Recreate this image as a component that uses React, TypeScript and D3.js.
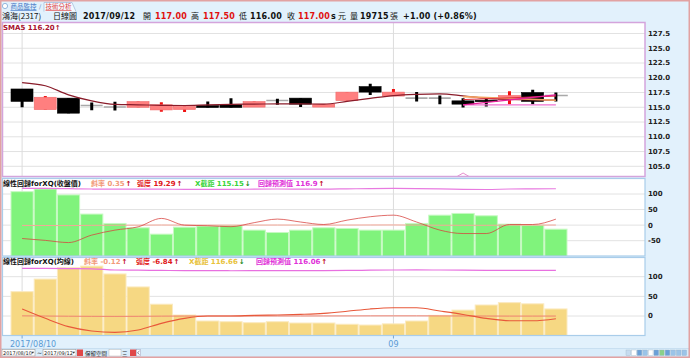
import React from "react";
import * as d3 from "d3";

const dates = ["2017/08/10","08/11","08/14","08/15","08/16","08/17","08/18","08/21","08/22","08/23","08/24","08/25","08/28","08/29","08/30","08/31","09/01","09/04","09/05","09/06","09/07","09/08","09/11","09/12"];
const opens = [118.1,114.6,116.55,115.3,115.05,115.0,114.55,114.62,115.3,115.42,115.03,116.14,116.55,115.03,116.14,118.5,116.9,116.55,116.55,116.09,116.2,116.26,117.5,117.0];
const highs = [118.1,116.9,116.55,115.8,115.95,116.0,115.85,115.13,115.97,116.55,115.97,116.43,116.55,115.53,117.57,118.97,118.08,117.57,116.99,116.55,116.55,117.7,117.96,117.5];
const lows = [115.0,114.6,114.0,114.5,114.45,115.0,114.25,114.2,114.96,114.96,115.03,115.42,115.03,115.03,116.14,117.1,116.9,115.97,115.53,114.96,115.13,115.53,115.53,116.0];
const closes = [116.0,116.7,114.0,115.3,115.05,115.97,115.42,115.13,114.96,114.96,115.97,116.14,115.53,115.53,117.57,117.57,117.57,116.55,116.55,115.53,116.0,117.0,116.0,117.0];
const sma5 = [119.19,118.64,117.11,116.09,115.5,115.42,115.33,115.3,115.42,115.5,115.53,115.58,115.58,115.53,116.0,116.5,116.99,117.2,117.28,116.94,116.5,116.35,116.26,116.2];

const regIdx = [19, 23];
const regOrange = [116.8, 116.2];
const regMagenta = [115.4, 117.1];
const regPink = [115.4, 115.4];
const regRed = [116.3, 116.9];

const midBars = [107.5,116,97,35.5,5.4,-8.6,-29,-6.5,-3.2,-2,-16,-23.7,-16,-8.6,-10.7,-16,-16,5.4,32,37.6,30,3.2,0,-13];
const midAngle = [-43,-49,-56,-32,-16,-5.4,21.6,0,-2,-5,8,19.4,10,2,16,27,32,10,-16,-27,-27,2,2,19.29];
const midSlope = [-0.93,-1.15,-1.48,-0.62,-0.29,-0.09,0.4,0,-0.03,-0.09,0.14,0.35,0.18,0.03,0.29,0.51,0.62,0.18,-0.29,-0.51,-0.51,0.03,0.03,0.35];
const midPred = [118,118,117,116,115.5,115.5,115.5,115,115,115,115.5,116,115.8,115.6,116.5,117.5,118,117.5,116.5,115,114.5,116,116.5,116.9];

const botBars = [61.9,94,123,127,107,74,30,2.5,-12.7,-14.5,-17,-14.5,-17.8,-17.8,-21,-23,-20,-12.7,1.7,15,28,34,31,18];
const botAngle = [17.8,-6,-27,-38,-41.6,-35.6,-18.7,-6,0,0,1.7,2.5,4.2,6.8,12,18,21,21,12.7,4,-6,-12,-12,-6.84];
const botSlope = [0.32,-0.1,-0.51,-0.78,-0.89,-0.72,-0.34,-0.1,0,0,0.03,0.04,0.07,0.12,0.21,0.32,0.38,0.38,0.23,0.07,-0.1,-0.21,-0.21,-0.12];
const botPred = [121,121,120.5,120,117,116.5,116,115.5,115.3,115.2,115.3,115.5,115.6,115.7,116,116.5,117,117.3,117,116.6,116.3,116.2,116.1,116.06];

const topTicks = [105,107.5,110,112.5,115,117.5,120,122.5,125,127.5];
const midTicks = [100,50,0,-50];
const botTicks = [100,50,0];
const xLabels = [{ i: 0, t: "2017/08/10" }, { i: 16, t: "09" }];

const W = 690, H = 358;
const PL = 3, PR = 645;
const TOP = [22.5, 176.5];
const MID = [178.5, 256];
const BOT = [257.5, 335.5];

const NUM = "'DejaVu Sans', 'Noto Sans CJK TC', sans-serif";
const CJK = "'Noto Sans CJK TC', 'Noto Sans CJK SC', sans-serif";

let measureCtx: CanvasRenderingContext2D | null = null;
function measure(t: string, font: string): number {
  if (!measureCtx) measureCtx = document.createElement("canvas").getContext("2d");
  if (!measureCtx) return t.length * 5;
  measureCtx.font = font;
  return measureCtx.measureText(t).width;
}

type Item = { t: string; x: number; c: string; arrow?: string; ac?: string };

function Legend({ items, y, fs }: { items: Item[]; y: number; fs: number }) {
  const font = `bold ${fs}px ${NUM}`;
  return (
    <g>
      {items.map((it, k) => {
        const w = measure(it.t, font);
        return (
          <g key={k}>
            <text x={it.x} y={y} fill={it.c} fontSize={fs} fontWeight="bold" fontFamily={NUM}>{it.t}</text>
            {it.arrow ? (
              <text x={it.x + w + 0.8} y={y} fill={it.ac} fontSize={fs} fontWeight="bold" fontFamily={NUM}>{it.arrow}</text>
            ) : null}
          </g>
        );
      })}
    </g>
  );
}

export default function App() {
  const x = d3.scaleBand<number>().domain(d3.range(dates.length)).range([10.5, 567.5]).padding(0);
  const bw = x.bandwidth();
  const cx = (i: number) => (x(i) as number) + bw / 2;
  const yT = d3.scaleLinear().domain([105, 127.5]).range([166.3, 33.5]);
  const yM = d3.scaleLinear().domain([-50, 100]).range([240.7, 194]);
  const yB = d3.scaleLinear().domain([0, 100]).range([316, 276.7]);

  const lineT = d3.line<number>().x((_, i) => cx(i)).y((v) => yT(v)).curve(d3.curveMonotoneX);
  const lineM = d3.line<number>().x((_, i) => cx(i)).y((v) => yM(v)).curve(d3.curveMonotoneX);
  const lineB = d3.line<number>().x((_, i) => cx(i)).y((v) => yB(v)).curve(d3.curveMonotoneX);
  const regLine = (vals: number[]) =>
    d3.line<number>().x((_, k) => cx(regIdx[k])).y((v) => yT(v))(vals) as string;

  const candles = dates.map((d, i) => {
    const o = opens[i], c = closes[i], h = highs[i], l = lows[i];
    const bx = (x(i) as number) + 0.5;
    const w = bw - 1.2;
    const m = cx(i);
    if (Math.abs(c - o) < 0.02) {
      return (
        <g key={i}>
          <line x1={bx} x2={bx + w + (i === dates.length - 1 ? 1 : 0)} y1={yT(o)} y2={yT(o)} stroke="#a9a9a9" strokeWidth={1.6} />
          <line x1={m} x2={m} y1={yT(h)} y2={yT(l)} stroke="#000" strokeWidth={3} />
        </g>
      );
    }
    const up = c > o;
    const top = yT(Math.max(o, c)), bot = yT(Math.min(o, c));
    return (
      <g key={i}>
        <line x1={m} x2={m} y1={yT(h)} y2={yT(l)} stroke={up ? "#f01010" : "#000"} strokeWidth={3} />
        <rect x={bx} y={top} width={w} height={Math.max(1.5, bot - top)} fill={up ? "#ff7f7f" : "#000"} stroke={up ? "#f06a6a" : "#000"} strokeWidth={0.6} />
      </g>
    );
  });

  const upA = "#c00010", dnA = "#1a8a1a";
  const hdrY = 18.5;
  const hb = (t: string, x0: number, c: string) => (
    <text x={x0} y={hdrY} fontSize={8} fontWeight="bold" fill={c} fontFamily={NUM} letterSpacing={0.2}>{t}</text>
  );
  const hc = (t: string, x0: number) => (
    <text x={x0} y={hdrY} fontSize={8} fill="#111" fontFamily={CJK}>{t}</text>
  );

  return (
    <svg width={W} height={H} style={{ position: "absolute", left: 0, top: 0, display: "block" }} xmlns="http://www.w3.org/2000/svg">
      <defs>
        <clipPath id="cT"><rect x={PL} y={TOP[0]} width={PR - PL} height={TOP[1] - TOP[0]} /></clipPath>
        <clipPath id="cM"><rect x={PL} y={MID[0]} width={PR - PL} height={MID[1] - MID[0]} /></clipPath>
        <clipPath id="cB"><rect x={PL} y={BOT[0]} width={PR - PL} height={BOT[1] - BOT[0]} /></clipPath>
      </defs>
      <rect x={0} y={0} width={W} height={H} fill="#e2f1fc" />
      {/* tabs */}
      <circle cx={5} cy={6} r={2.6} fill="#fff" stroke="#7aa6d6" strokeWidth={0.8} />
      <text x={10.5} y={9} fontSize={6.5} fill="#3d74c4" fontFamily={CJK} textDecoration="underline">商品監控</text>
      <text x={39} y={9} fontSize={6.5} fill="#7a9cc8" fontFamily={NUM}>/</text>
      <path d="M44,11.5 L44,2.5 L72,2.5 L76,11.5" fill="#f4f9fe" stroke="#9bb8d8" strokeWidth={0.7} />
      <text x={45.5} y={9} fontSize={6.5} fill="#d44" fontFamily={CJK} textDecoration="underline">技術分析</text>
      {/* header row */}
      {hc("鴻海(2317)", 2)}
      {hc("日線圖", 53)}
      {hb("2017/09/12", 83, "#111")}
      {hc("開", 143)}
      {hb("117.00", 155, "#e01010")}
      {hc("高", 191)}
      {hb("117.50", 203, "#e01010")}
      {hc("低", 239)}
      {hb("116.00", 250, "#111")}
      {hc("收", 287)}
      {hb("117.00", 298, "#e01010")}
      {hb("s", 331, "#111")}
      {hc("元", 338)}
      {hc("量", 350)}
      {hb("19715", 360, "#111")}
      {hc("張", 390)}
      {hb("+1.00 (+0.86%)", 403, "#111")}

      {/* panels background */}
      <rect x={PL} y={TOP[0]} width={PR - PL} height={TOP[1] - TOP[0]} fill="#fff" />
      <rect x={PL} y={MID[0]} width={PR - PL} height={MID[1] - MID[0]} fill="#fff" />
      <rect x={PL} y={BOT[0]} width={PR - PL} height={BOT[1] - BOT[0]} fill="#fff" />

      {/* grids */}
      {topTicks.map((t) => <line key={"gt" + t} x1={PL} x2={PR} y1={yT(t)} y2={yT(t)} stroke="#e2e2e2" />)}
      {midTicks.map((t) => <line key={"gm" + t} x1={PL} x2={PR} y1={yM(t)} y2={yM(t)} stroke="#e2e2e2" />)}
      {botTicks.map((t) => <line key={"gb" + t} x1={PL} x2={PR} y1={yB(t)} y2={yB(t)} stroke="#e2e2e2" />)}
      {xLabels.map((l) => (
        <g key={"v" + l.i}>
          <line x1={cx(l.i)} x2={cx(l.i)} y1={TOP[0]} y2={TOP[1]} stroke="#dcdcdc" />
          <line x1={cx(l.i)} x2={cx(l.i)} y1={MID[0]} y2={MID[1]} stroke="#dcdcdc" />
          <line x1={cx(l.i)} x2={cx(l.i)} y1={BOT[0]} y2={BOT[1]} stroke="#dcdcdc" />
        </g>
      ))}

      {/* top panel */}
      <g clipPath="url(#cT)">
        {candles}
        <path d={lineT(sma5) as string} fill="none" stroke="#8a1c2a" strokeWidth={1.2} />
        <path d={regLine(regPink)} stroke="#f070d0" strokeWidth={1.2} fill="none" />
        <path d={regLine(regOrange)} stroke="#f2a060" strokeWidth={1.6} fill="none" />
        <path d={regLine(regRed)} stroke="#e03040" strokeWidth={1} fill="none" />
        <path d={regLine(regMagenta)} stroke="#e8209a" strokeWidth={1.4} fill="none" />
        <path d={`M${cx(19) - 6},${TOP[1]} L${cx(19)},${TOP[1] - 3.5} L${cx(19) + 6},${TOP[1]}`} stroke="#e070c0" fill="none" strokeWidth={0.8} />
      </g>
      <rect x={PL - 0.5} y={TOP[0]} width={PR - PL + 0.5} height={TOP[1] - TOP[0]} fill="none" stroke="#d4a4dc" strokeWidth={1.5} />
      <text x={3} y={29.5} fontSize={7} fontWeight="bold" fill="#a8102c" fontFamily={NUM}>SMA5 116.20↑</text>

      {/* middle panel */}
      <g clipPath="url(#cM)">
        {midBars.map((v, i) => (
          <rect key={i} x={(x(i) as number) + 0.5} y={yM(v)} width={bw - 1} height={MID[1] - yM(v) + 2} fill="#80f37c" stroke="#c6f9c2" strokeWidth={1} />
        ))}
        <path d={lineM(midSlope) as string} fill="none" stroke="#f5a898" strokeWidth={1} />
        <path d={lineM(midAngle) as string} fill="none" stroke="#d8403c" strokeWidth={0.9} strokeOpacity={0.85} />
        <path d={lineM(midPred) as string} fill="none" stroke="#e87ae0" strokeWidth={1.2} />
      </g>
      <rect x={PL - 0.5} y={MID[0]} width={PR - PL + 0.5} height={MID[1] - MID[0]} fill="none" stroke="#a9cdea" strokeWidth={1.2} />
      <Legend
        y={185.5}
        fs={7}
        items={[
          { t: "線性回歸forXQ(收盤價)", x: 3, c: "#111" },
          { t: "斜率 0.35", x: 91, c: "#f29a7a", arrow: "↑", ac: upA },
          { t: "弧度 19.29", x: 137, c: "#e01818", arrow: "↑", ac: upA },
          { t: "X截距 115.15", x: 195, c: "#3ad43a", arrow: "↓", ac: dnA },
          { t: "回歸預測值 116.9", x: 258, c: "#e030d8", arrow: "↑", ac: upA },
        ]}
      />

      {/* bottom panel */}
      <g clipPath="url(#cB)">
        {botBars.map((v, i) => (
          <rect key={i} x={(x(i) as number) + 0.5} y={yB(v)} width={bw - 1} height={BOT[1] - yB(v) + 2} fill="#f6d883" stroke="#fbeac0" strokeWidth={1} />
        ))}
        <path d={lineB(botSlope) as string} fill="none" stroke="#ee8070" strokeWidth={1} />
        <path d={lineB(botAngle) as string} fill="none" stroke="#e8583a" strokeWidth={1.1} />
        <path d={lineB(botPred) as string} fill="none" stroke="#e870e0" strokeWidth={1.2} />
      </g>
      <rect x={PL - 0.5} y={BOT[0]} width={PR - PL + 0.5} height={BOT[1] - BOT[0]} fill="none" stroke="#a9cdea" strokeWidth={1.2} />
      <Legend
        y={264}
        fs={7}
        items={[
          { t: "線性回歸forXQ(均線)", x: 3, c: "#111" },
          { t: "斜率 -0.12", x: 84, c: "#f29a7a", arrow: "↑", ac: upA },
          { t: "弧度 -6.84", x: 136, c: "#e01818", arrow: "↑", ac: upA },
          { t: "X截距 116.66", x: 189, c: "#e8c23a", arrow: "↓", ac: dnA },
          { t: "回歸預測值 116.06", x: 256, c: "#e030d8", arrow: "↑", ac: upA },
        ]}
      />

      {/* right axes */}
      {topTicks.map((t) => (
        <text key={"lt" + t} x={648} y={yT(t)} dy="0.35em" fontSize={7} fontWeight="bold" fill="#222" fontFamily={NUM}>{d3.format(".1f")(t)}</text>
      ))}
      {midTicks.map((t) => (
        <text key={"lm" + t} x={648} y={yM(t)} dy="0.35em" fontSize={7} fontWeight="bold" fill="#222" fontFamily={NUM}>{t}</text>
      ))}
      {botTicks.map((t) => (
        <text key={"lb" + t} x={648} y={yB(t)} dy="0.35em" fontSize={7} fontWeight="bold" fill="#222" fontFamily={NUM}>{t}</text>
      ))}

      {/* x axis */}
      {xLabels.map((l) => (
        <g key={"xl" + l.i}>
          <line x1={cx(l.i)} x2={cx(l.i)} y1={BOT[1]} y2={BOT[1] + 3} stroke="#7aa6d0" />
          <text x={l.i === 0 ? 10 : cx(l.i)} y={346.5} textAnchor={l.i === 0 ? "start" : "middle"} fontSize={8} fill="#5a9ad4" fontFamily={NUM}>{l.t}</text>
        </g>
      ))}

      {/* toolbar */}
      <rect x={1} y={348.5} width={688} height={8.5} fill="#d9ecfa" stroke="#b9d5ec" strokeWidth={0.6} />
      <rect x={2} y={349.5} width={33} height={6.5} fill="#fff" stroke="#8a8a8a" strokeWidth={0.5} />
      <text x={3} y={355} fontSize={5} fill="#222" fontFamily={NUM}>2017/08/10</text>
      <path d="M31.5,351.8 L34,351.8 L32.75,353.8 Z" fill="#333" />
      <text x={37} y={355} fontSize={6} fill="#222" fontFamily={NUM}>~</text>
      <rect x={43} y={349.5} width={33} height={6.5} fill="#fff" stroke="#8a8a8a" strokeWidth={0.5} />
      <text x={44} y={355} fontSize={5} fill="#222" fontFamily={NUM}>2017/09/12</text>
      <path d="M72.5,351.8 L75,351.8 L73.75,353.8 Z" fill="#333" />
      <rect x={77} y={349.5} width={6} height={6.5} fill="#e04848" />
      <text x={85} y={355.5} fontSize={5.5} fill="#222" fontFamily={CJK}>保留空間</text>
      <rect x={109} y={349.5} width={12} height={6.5} fill="#fff" stroke="#aaa" strokeWidth={0.4} />
      <text x={122} y={355.5} fontSize={5.5} fill="#333" fontFamily={CJK}>三</text>
      <rect x={130} y={349.5} width={6} height={6.5} fill="#e04848" />
      <rect x={136.5} y={349.5} width={4} height={6.5} fill="#fff" stroke="#88a" strokeWidth={0.4} />
      <path d="M139.5,351 L137.5,352.75 L139.5,354.5" stroke="#335" strokeWidth={0.6} fill="none" />
      {["#c6dcf0", "#fff", "#6aa0d8", "#9bc4e8", "#fff", "#6aa0d8", "#8ad08a", "#6aa0d8", "#9bc4e8", "#9bc4e8", "#9bc4e8"].map((c, k) => (
        <rect key={"ic" + k} x={626 + k * 5.6} y={350} width={4.6} height={5.5} fill={c} stroke="#9ab" strokeWidth={0.3} />
      ))}
      <rect x={0.75} y={0.75} width={W - 1.5} height={H - 1.5} fill="none" stroke="#e2a2a2" strokeWidth={1.5} />
    </svg>
  );
}
